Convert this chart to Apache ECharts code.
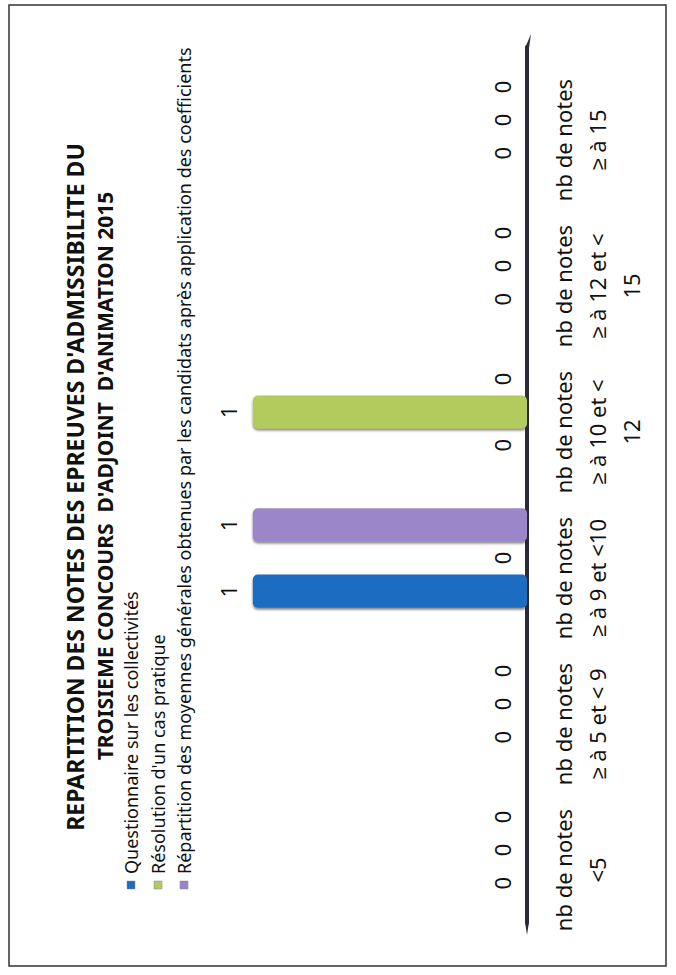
<!DOCTYPE html>
<html>
<head>
<meta charset="utf-8">
<script src="https://cdn.jsdelivr.net/npm/echarts@6/dist/echarts.min.js"></script>
<style>
html,body{margin:0;padding:0;background:#fff;}
#chart{width:676px;height:975px;}
</style>
</head>
<body>
<div id="chart"></div>
<script>
// ---- data ----
const categories = [
  'nb de notes\n<5',
  'nb de notes\n≥ à 5 et < 9',
  'nb de notes\n≥ à 9 et <10',
  'nb de notes\n≥ à 10 et <\n12',
  'nb de notes\n≥ à 12 et <\n15',
  'nb de notes\n≥ à 15'
];
const seriesNames = [
  'Questionnaire sur les collectivités',
  "Résolution d'un cas pratique",
  'Répartition des moyennes générales obtenues par les candidats après application des coefficients'
];
const questionnaire = [0, 0, 1, 0, 0, 0];
const resolution = [0, 0, 0, 1, 0, 0];
const repartition = [0, 0, 1, 0, 0, 0];
const titleLines = [
  "REPARTITION DES NOTES DES EPREUVES D'ADMISSIBILITE DU",
  "TROISIEME CONCOURS  D'ADJOINT  D'ANIMATION 2015"
];

const colors = ['#1b6cc1', '#b3ca5c', '#9b86c9'];
const seriesData = [questionnaire, resolution, repartition];
const FONT = "'Liberation Sans Narrow', 'Noto Sans', sans-serif";

const chart = echarts.init(document.getElementById('chart'), null, {renderer: 'svg'});

function makeSeries(i) {
  return {
    name: seriesNames[i],
    type: 'bar',
    data: seriesData[i],
    barGap: '0%',
    barCategoryGap: '32%',
    itemStyle: {
      color: colors[i],
      borderRadius: 5,
      shadowColor: 'rgba(40,30,30,0.55)',
      shadowBlur: 2,
      shadowOffsetY: 2
    },
    label: {
      show: true,
      position: 'left',
      distance: 14,
      rotate: 90,
      align: 'center',
      verticalAlign: 'bottom',
      color: '#111',
      fontFamily: FONT,
      fontSize: 22
    }
  };
}

// first series is placed at the top within a group; reverse so Questionnaire is lowest
const order = [2, 1, 0];

const legendGraphics = [];
const legendX = [131, 158, 184];
for (let i = 0; i < 3; i++) {
  legendGraphics.push({
    type: 'rect',
    shape: {x: legendX[i] - 4, y: 881, width: 8, height: 8},
    style: {fill: colors[i], stroke: '#888', lineWidth: 0.5}
  });
  legendGraphics.push({
    type: 'text',
    x: legendX[i],
    y: 874,
    rotation: Math.PI / 2,
    style: {
      text: seriesNames[i],
      font: '18px ' + FONT,
      fill: '#111',
      textAlign: 'left',
      textVerticalAlign: 'middle'
    }
  });
}

const option = {
  backgroundColor: '#ffffff',
  animation: false,
  grid: {left: 198, right: 149, top: 47, bottom: 52, containLabel: false},
  xAxis: {
    type: 'value',
    inverse: true,
    min: 0,
    max: 1.2,
    show: false
  },
  yAxis: {
    type: 'category',
    position: 'right',
    data: categories,
    axisTick: {show: false},
    axisLine: {show: true, lineStyle: {color: '#2b2b36', width: 4}},
    axisLabel: {
      interval: 0,
      hideOverlap: false,
      rotate: 90,
      align: 'center',
      verticalAlign: 'top',
      margin: 19,
      lineHeight: 34,
      padding: [0, 40, 0, 0],
      color: '#111',
      fontFamily: FONT,
      fontSize: 22
    }
  },
  graphic: [
    {
      type: 'rect',
      shape: {x: 9, y: 5, width: 657, height: 961},
      style: {fill: 'none', stroke: '#333', lineWidth: 1.5}
    },
    {
      type: 'polygon',
      shape: {points: [[525, 48], [529, 48], [531, 34]]},
      style: {fill: '#2b2b36'}
    },
    {
      type: 'polygon',
      shape: {points: [[525, 922], [529, 922], [527, 935]]},
      style: {fill: '#2b2b36'}
    },
    {
      type: 'text',
      x: 75, y: 487,
      rotation: Math.PI / 2,
      style: {
        text: titleLines[0],
        font: "bold 23px 'Noto Sans', sans-serif",
        fill: '#111',
        textAlign: 'center',
        textVerticalAlign: 'middle'
      }
    },
    {
      type: 'text',
      x: 105, y: 476,
      rotation: Math.PI / 2,
      style: {
        text: titleLines[1],
        font: "bold 21px 'Noto Sans', sans-serif",
        fill: '#111',
        textAlign: 'center',
        textVerticalAlign: 'middle'
      }
    }
  ].concat(legendGraphics),
  series: order.map(makeSeries)
};
chart.setOption(option);
</script>
</body>
</html>
